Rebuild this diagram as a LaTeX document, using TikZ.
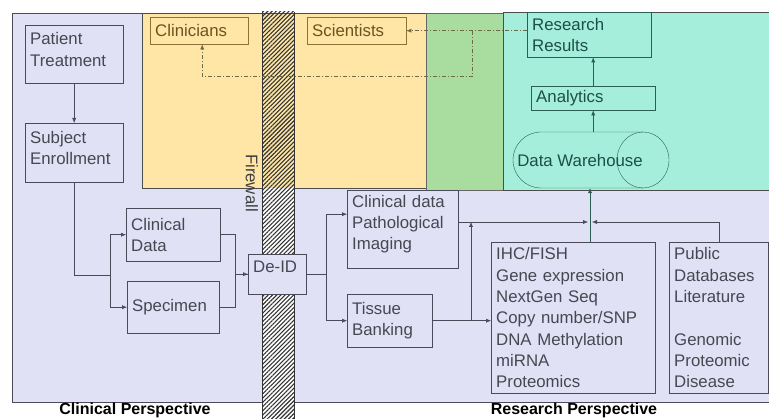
\documentclass[tikz,border=0pt]{standalone}
\usepackage{fontspec}
\setmainfont{Liberation Sans}
\usetikzlibrary{arrows.meta,positioning,patterns.meta}
\definecolor{lav}{HTML}{E1E1F5}
\definecolor{yel}{HTML}{FFE6A6}
\definecolor{grn}{HTML}{A9DDA0}
\definecolor{teal2}{HTML}{A6EEDC}
\definecolor{boxline}{HTML}{4A4A58}
\definecolor{boxtext}{HTML}{474752}
\definecolor{yelline}{HTML}{8A7335}
\definecolor{yeltext}{HTML}{6A5420}
\definecolor{tealline}{HTML}{2A5F52}
\definecolor{tealtext}{HTML}{1C4F45}
\definecolor{dashline}{HTML}{6E6C48}
\tikzset{
    box/.style={
      rectangle,
           draw=boxline, thin,
           text=boxtext,
           inner xsep=5pt, inner ysep=2pt,
           align=left,
           anchor=north west,
           font=\fontsize{16.8}{21.3}\selectfont,
           },
}
\tikzset{
    ybox/.style={
      box,
           draw=yelline,
           text=yeltext,
           },
}
\tikzset{
    tbox/.style={
      box,
           draw=tealline,
           text=tealtext,
           },
}
\tikzset{
    link/.style={
      ->,
           draw=boxline, thin,
           },
}
\tikzset{
    flow/.style={
      ->,
           draw=dashline, thin,
           dash pattern=on 4pt off 2pt on 1pt off 2pt,
           },
}

\begin{document}
\begin{tikzpicture}[x=1pt,y=-1pt,>={Latex[length=5pt,width=4pt]}]

\useasboundingbox (0,0) rectangle (769,419);

\draw[fill=lav,draw=boxline](12,13) rectangle (772,402);
\draw[fill=yel,draw=black!70](142,13) rectangle (426,188);
\draw[fill=grn,draw=black!60](426,13) rectangle (503,190);
\draw[fill=teal2,draw=black!70](503,12) rectangle (772,190);

\fill[white](262,188) rectangle (294,419);
\path[pattern={Lines[angle=45,distance=3pt,line width=1.1pt]},pattern color=black!80](262,12) rectangle (294,419);
\draw[black!80](262,12) -- (262,419) (294,12) -- (294,419);
\node[rotate=-90,text=black!75,font=\fontsize{16.8}{20}\selectfont](fw) at (252,183){Firewall};

\node[box,text width=88pt,minimum height=58pt,text depth=31pt](pt) at (25,25){Patient\\Treatment};
\node[box,text width=88pt,minimum height=59pt,text depth=31pt](se) at (25,123){Subject\\Enrollment};

\path (pt) edge[link](se);

\node[box,text width=84pt,minimum height=53pt](cld) at (126,208){Clinical\\Data};
\node[box,text width=82pt,minimum height=52pt](sp) at (127,281){Specimen};

\coordinate (sj) at (110,275);
\draw[boxline,thin] (se.south) |- (sj);
\draw[link] (sj) |- (cld.west);
\draw[link] (sj) |- (sp.west);

\node[box,fill=lav,text width=48pt,minimum height=40pt,text depth=14pt](di) at (248,254){De-ID};

\draw[link] (cld.east) -- ++(15,0) |- (di.west);
\draw[boxline,thin] (sp.east) -- ++(16,0) |- (di.west);

\node[box,text width=101pt,minimum height=78pt,text depth=56pt](cd) at (347,190){Clinical data\\Pathological\\Imaging};
\node[box,text width=75pt,minimum height=53pt](tb) at (347,294){Tissue\\Banking};

\draw[link] (di.east) -- ++(20,0) |- ([yshift=15pt]cd.west);
\draw[link] (di.east) -- ++(20,0) |- (tb.west);

\node[box,text width=154pt,minimum height=151pt](ihc) at (491,242){IHC/FISH\\Gene expression\\NextGen Seq\\Copy number/SNP\\DNA Methylation\\miRNA\\Proteomics};
\node[box,text width=89pt,minimum height=151pt](pub) at (669,242){Public\\Databases\\Literature\\[21.3pt]Genomic\\Proteomic\\Disease};

\coordinate (jn) at (590,222);
\coordinate (tj) at (471,0);
\draw[link] (tb.east) -- (tb.east -| ihc.west);
\draw[link] (tj |- tb.east) -- (tj |- jn);
\draw[link] (cd.east |- jn) -- ([xshift=-2pt]jn);
\draw[link] (pub.north) |- ([xshift=2pt]jn);

\draw[tealline,thin] (643,132) -- (541,132) arc[start angle=270,end angle=90,radius=28] -- (643,188);
\draw[tealline,thin] (643,160) ellipse[x radius=26,y radius=28];
\node[text=tealtext,inner sep=0pt,minimum width=155pt,minimum height=56pt,font=\fontsize{16.8}{20}\selectfont](dw) at (580,160){Data Warehouse};
\node[tbox,text width=114pt,minimum height=24pt](an) at (531,86){Analytics};
\node[tbox,text width=114pt,minimum height=45pt](rr) at (527,12){Research\\Results};

\draw[link,draw=tealline] (jn |- ihc.north) -- (jn |- dw.south);
\path (dw.north -| an.south) edge[link,draw=tealline](an.south);
\path (an.north) edge[link,draw=tealline](an.north |- rr.south);

\node[ybox,text width=88pt,minimum height=27pt](cl) at (150,17){Clinicians};
\node[ybox,text width=89pt,minimum height=27pt](sc) at (307,17){Scientists};

\coordinate (db) at (472,0);
\draw[flow] (rr.west |- sc.east) -- (sc.east);
\draw[flow] (db |- sc.east) -- ++(0,46) -| ([xshift=3pt]cl.south);

\node[font=\fontsize{16}{18}\bfseries,anchor=base](cp) at (135,415){Clinical Perspective};
\node[font=\fontsize{16}{18}\bfseries,anchor=base](rp) at (574,415){Research Perspective};

\end{tikzpicture}
\end{document}
